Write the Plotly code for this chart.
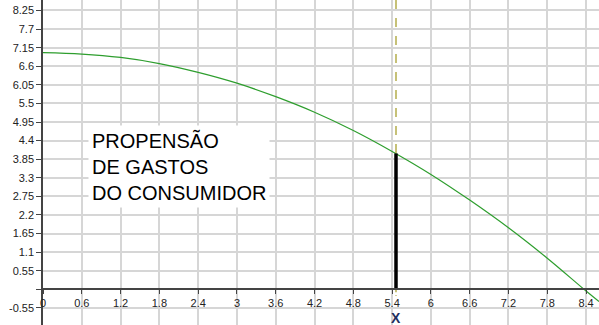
import plotly.graph_objects as go

# Curve values
curve_x = [0, 0.6, 1.2, 1.8, 2.4, 3.0, 3.6, 4.2, 4.8, 5.4, 6.0, 6.6, 7.2, 7.8, 8.4, 8.6]
curve_y = [7.0, 6.96, 6.86, 6.68, 6.42, 6.1, 5.7, 5.24, 4.7, 4.08, 3.4, 2.64, 1.82, 0.92, -0.05, -0.36]

# Marked point
point_x = 5.46
point_y = 4.02

x_tickvals = [0, 0.6, 1.2, 1.8, 2.4, 3, 3.6, 4.2, 4.8, 5.4, 6, 6.6, 7.2, 7.8, 8.4]
x_ticktext = ["0", "0.6", "1.2", "1.8", "2.4", "3", "3.6", "4.2", "4.8", "5.4", "6", "6.6", "7.2", "7.8", "8.4"]
y_tickvals = [-0.55, 0, 0.55, 1.1, 1.65, 2.2, 2.75, 3.3, 3.85, 4.4, 4.95, 5.5, 6.05, 6.6, 7.15, 7.7, 8.25]
y_ticktext = ["-0.55", "", "0.55", "1.1", "1.65", "2.2", "2.75", "3.3", "3.85", "4.4", "4.95", "5.5", "6.05", "6.6", "7.15", "7.7", "8.25"]

x_range = [0, 8.6]
y_range = [-1.056, 8.56]

label_text = "PROPENSÃO<br>DE GASTOS<br>DO CONSUMIDOR"
axis_label = "X"

fig = go.Figure()

fig.add_trace(go.Scatter(x=curve_x, y=curve_y, mode="lines",
                         line=dict(color="#2e9e2e", width=1.2, shape="spline"),
                         hoverinfo="skip", showlegend=False))

# dashed guide from top to the curve
fig.add_trace(go.Scatter(x=[point_x, point_x], y=[y_range[1], point_y], mode="lines",
                         line=dict(color="#a8a030", width=1.3, dash="dash"),
                         hoverinfo="skip", showlegend=False))
# small dashed piece below the axis
fig.add_trace(go.Scatter(x=[point_x, point_x], y=[0, -0.2], mode="lines",
                         line=dict(color="#a8a030", width=1.3, dash="dot"),
                         hoverinfo="skip", showlegend=False))
# thick black segment from axis to curve
fig.add_trace(go.Scatter(x=[point_x, point_x], y=[0, point_y], mode="lines",
                         line=dict(color="#000000", width=3.5),
                         hoverinfo="skip", showlegend=False))

pos0 = (0 - y_range[0]) / (y_range[1] - y_range[0])

fig.update_layout(
    width=599, height=325,
    margin=dict(l=43, r=0, t=0, b=0, autoexpand=False),
    paper_bgcolor="white", plot_bgcolor="white",
    showlegend=False,
    font=dict(family="Liberation Sans, Arial, sans-serif", size=11, color="#222"),
    xaxis=dict(range=x_range, tickvals=x_tickvals, ticktext=x_ticktext,
               showgrid=True, gridcolor="#d6d6d6", gridwidth=1.5,
               zeroline=False, showline=True, linecolor="#444", linewidth=1.5,
               ticks="outside", ticklen=4, tickcolor="#444",
               anchor="free", position=pos0, automargin=False,
               tickfont=dict(size=11, color="#222")),
    yaxis=dict(range=y_range, tickvals=y_tickvals, ticktext=y_ticktext,
               showgrid=True, gridcolor="#d6d6d6", gridwidth=1.5,
               zeroline=False, showline=True, linecolor="#444", linewidth=1.5,
               ticks="outside", ticklen=5, tickcolor="#444", automargin=False,
               tickfont=dict(size=11, color="#222")),
)

fig.add_annotation(x=0.69, y=4.86, xref="x", yref="y", text=label_text,
                   showarrow=False, xanchor="left", yanchor="top", align="left",
                   font=dict(family="Liberation Sans, Arial, sans-serif", size=20, color="#000"),
                   bgcolor="white", borderpad=3)

fig.add_annotation(x=point_x, y=-0.86, xref="x", yref="y", text="<b>" + axis_label + "</b>",
                   showarrow=False, xanchor="center", yanchor="middle",
                   font=dict(family="Liberation Sans, Arial, sans-serif", size=14, color="#1f2f5f"))

fig.write_html("out.html", config={"displayModeBar": False},
               post_script="document.body.style.margin='0';document.body.style.overflow='hidden';")
